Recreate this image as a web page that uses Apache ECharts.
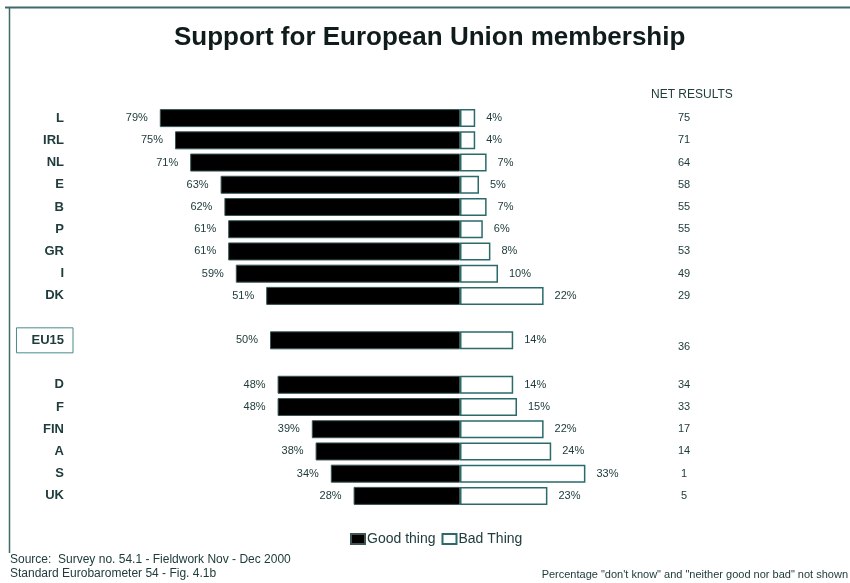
<!DOCTYPE html>
<html>
<head>
<meta charset="utf-8">
<script src="https://cdn.jsdelivr.net/npm/echarts@6/dist/echarts.min.js"></script>
<style>
  html, body { margin: 0; padding: 0; background: #fff; }
  #main { width: 850px; height: 583px; }
</style>
</head>
<body>
<div id="main"></div>
<script>
// countries, top to bottom ('' = empty row)
var countries = ['L', 'IRL', 'NL', 'E', 'B', 'P', 'GR', 'I', 'DK', '', 'EU15', '', 'D', 'F', 'FIN', 'A', 'S', 'UK'];
var goodThing = [79, 75, 71, 63, 62, 61, 61, 59, 51, null, 50, null, 48, 48, 39, 38, 34, 28];
var badThing = [4, 4, 7, 5, 7, 6, 8, 10, 22, null, 14, null, 14, 15, 22, 24, 33, 23];
var netResults = ['75', '71', '64', '58', '55', '55', '53', '49', '29', '', '36', '', '34', '33', '17', '14', '1', '5'];

var txt = '#203c3c';
var myChart = echarts.init(document.getElementById('main'));

myChart.setOption({
    animation: false,
    backgroundColor: '#fff',
    textStyle: { fontFamily: 'Liberation Sans, Arial, sans-serif' },
    title: [{
        text: 'Support for European Union membership',
        left: 169,
        top: 20,
        textStyle: { fontSize: 26, fontWeight: 'bold', color: '#101c1c' }
    }, {
        text: 'NET RESULTS',
        left: 646,
        top: 84,
        textStyle: { fontSize: 12, fontWeight: 'normal', color: txt }
    }, {
        text: 'Source:  Survey no. 54.1 - Fieldwork Nov - Dec 2000',
        left: 5,
        top: 549,
        textStyle: { fontSize: 12, fontWeight: 'normal', color: txt }
    }, {
        text: 'Standard Eurobarometer 54 - Fig. 4.1b',
        left: 5,
        top: 563,
        textStyle: { fontSize: 12, fontWeight: 'normal', color: txt }
    }, {
        text: 'Percentage "don\'t know" and "neither good nor bad" not shown',
        right: -3,
        top: 564,
        textStyle: { fontSize: 11, fontWeight: 'normal', color: txt }
    }],
    graphic: [
        { type: 'line', shape: { x1: 5, y1: 7.5, x2: 850, y2: 7.5 }, style: { stroke: '#3f6a6a', lineWidth: 2 } },
        { type: 'line', shape: { x1: 9.5, y1: 7, x2: 9.5, y2: 553 }, style: { stroke: '#3f6a6a', lineWidth: 1.5 } }
    ],
    legend: {
        left: 345,
        top: 527,
        itemWidth: 14,
        itemHeight: 10,
        itemGap: 6,
        data: [
            { name: 'Good thing', icon: 'rect' },
            { name: 'Bad Thing', icon: 'rect' }
        ],
        textStyle: { fontSize: 14, color: txt, padding: [0, 0, 0, -3] }
    },
    grid: { left: 156, right: 219, top: 107, bottom: 76 },
    xAxis: {
        type: 'value',
        min: -80,
        max: 45,
        show: false
    },
    yAxis: [{
        type: 'category',
        inverse: true,
        data: countries,
        axisLine: { show: false },
        axisTick: { show: false },
        axisLabel: {
            margin: 83,
            formatter: function (v) {
                return v === 'EU15' ? '{box|EU15}' : '{n|' + v + '}';
            },
            rich: {
                n: { fontSize: 13, fontWeight: 'bold', color: txt, padding: [0, 9, 0, 0] },
                box: {
                    fontSize: 13, fontWeight: 'bold', color: txt,
                    borderColor: '#4a8a8a', borderWidth: 1,
                    padding: [6, 9, 6, 15]
                }
            }
        }
    }, {
        type: 'category',
        inverse: true,
        position: 'right',
        data: netResults,
        axisLine: { show: false },
        axisTick: { show: false },
        axisLabel: {
            margin: 53,
            align: 'center',
            fontSize: 11,
            color: txt,
            formatter: function (v, i) {
                // EU15 total sits a little lower in the original
                return i === 10 ? '{e|' + v + '}' : v;
            },
            rich: { e: { fontSize: 11, color: txt, padding: [13, 0, 0, 0] } }
        }
    }],
    series: [{
        name: 'Good thing',
        type: 'bar',
        barWidth: 18,
        barGap: '-100%',
        data: goodThing.map(function (v) { return v == null ? '-' : -v; }),
        itemStyle: { color: '#000', borderColor: '#3a5555', borderWidth: 1 },
        label: {
            show: true,
            position: 'left',
            distance: 12,
            fontSize: 11,
            color: txt,
            formatter: function (p) { return Math.abs(p.value) + '%'; }
        }
    }, {
        name: 'Bad Thing',
        type: 'bar',
        barWidth: 18,
        data: badThing.map(function (v) { return v == null ? '-' : v; }),
        itemStyle: { color: '#fff', borderColor: '#2a6a6a', borderWidth: 1.5 },
        label: {
            show: true,
            position: 'right',
            distance: 11,
            fontSize: 11,
            color: txt,
            formatter: function (p) { return p.value + '%'; }
        }
    }]
});
</script>
</body>
</html>
